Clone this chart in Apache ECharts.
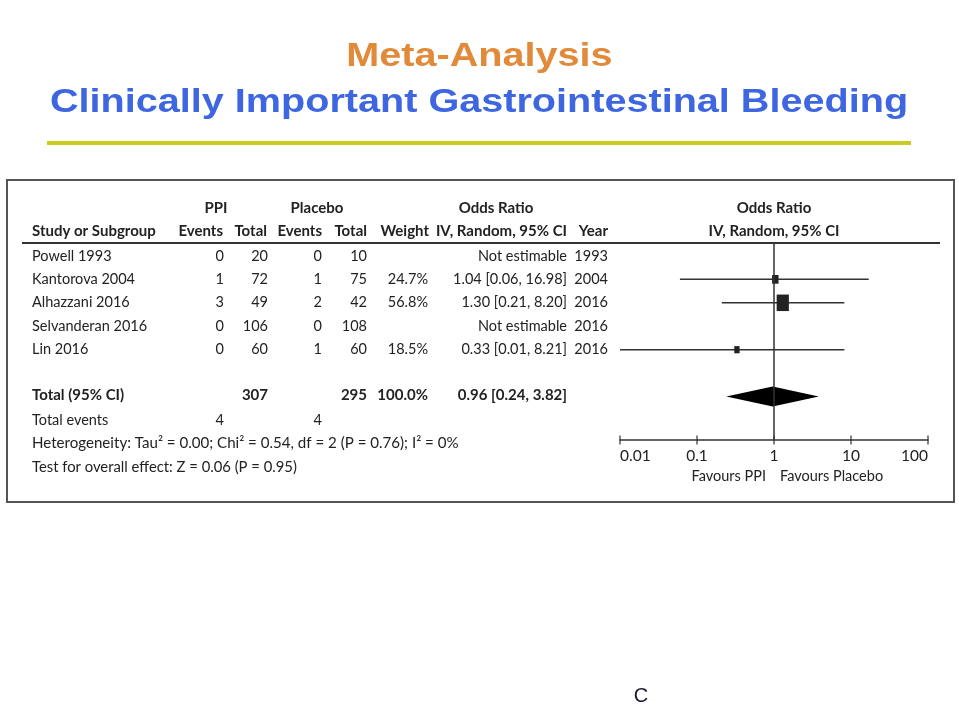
<!DOCTYPE html>
<html>
<head>
<meta charset="utf-8">
<title>Meta-Analysis</title>
<script src="https://cdn.jsdelivr.net/npm/echarts@6/dist/echarts.min.js"></script>
<style>
  html, body { margin: 0; padding: 0; background: #fff; }
  #main { width: 959px; height: 719px; }
</style>
</head>
<body>
<div id="main"></div>
<script>
// study rows
var studies = ['Powell 1993', 'Kantorova 2004', 'Alhazzani 2016', 'Selvanderan 2016', 'Lin 2016'];
var ppiEvents = [0, 1, 3, 0, 0];
var ppiTotal = [20, 72, 49, 106, 60];
var plaEvents = [0, 1, 2, 0, 1];
var plaTotal = [10, 75, 42, 108, 60];
var weights = [null, 24.7, 56.8, null, 18.5];
var oddsRatio = [null, 1.04, 1.30, null, 0.33];
var ciLow = [null, 0.06, 0.21, null, 0.01];
var ciHigh = [null, 16.98, 8.20, null, 8.21];
var years = [1993, 2004, 2016, 2016, 2016];

// pooled result
var totalOR = [0.96, 0.24, 3.82];   // estimate, low, high
var totalN = [307, 295];
var totalEvents = [4, 4];
var xTicks = [0.01, 0.1, 1, 10, 100];

var FONT = 'Lato, "Noto Sans", sans-serif';
var INK = '#222';
var AXIS_ROW = 7.85;   // row index where the x axis sits
var TOP_ROW = -0.55;   // row index of the header rule

var chart = echarts.init(document.getElementById('main'));

function fmtOR(i) {
    if (oddsRatio[i] == null) return 'Not estimable';
    return oddsRatio[i].toFixed(2) + ' [' + ciLow[i].toFixed(2) + ', ' + ciHigh[i].toFixed(2) + ']';
}

var ciData = [];
for (var i = 0; i < studies.length; i++) {
    if (oddsRatio[i] != null) ciData.push([oddsRatio[i], i, ciLow[i], ciHigh[i], weights[i]]);
}

chart.setOption({
    backgroundColor: '#fff',
    animation: false,
    grid: { left: 620, width: 308, top: 243, height: 197 },
    xAxis: {
        type: 'log', logBase: 10, min: 0.01, max: 100,
        axisLine: { show: true, onZero: false, lineStyle: { color: '#333', width: 1.5 } },
        axisTick: { show: false },
        splitLine: { show: false },
        axisLabel: {
            color: INK, fontFamily: FONT, fontSize: 15.5, margin: 8,
            alignMinLabel: 'left', alignMaxLabel: 'right',
            formatter: function (v) { return String(+v.toPrecision(3)); }
        }
    },
    yAxis: {
        type: 'value', inverse: true, min: TOP_ROW, max: AXIS_ROW, show: false
    },
    series: [
        {
            // line of no effect
            type: 'line', symbol: 'none', silent: true,
            lineStyle: { color: '#333', width: 1.5 },
            data: [[1, TOP_ROW], [1, AXIS_ROW]]
        },
        {
            // tick marks crossing the axis
            type: 'scatter', symbol: 'rect', symbolSize: [1.5, 9], silent: true,
            itemStyle: { color: '#333' },
            data: xTicks.map(function (t) { return [t, AXIS_ROW]; })
        },
        {
            // confidence intervals and weighted squares
            type: 'custom', silent: true,
            data: ciData,
            renderItem: function (params, api) {
                var c = api.coord([api.value(0), api.value(1)]);
                var lo = api.coord([api.value(2), api.value(1)]);
                var hi = api.coord([api.value(3), api.value(1)]);
                var w = 2 + api.value(4) * 0.18;
                var h = w * 1.35;
                return {
                    type: 'group',
                    children: [
                        { type: 'line', shape: { x1: lo[0], y1: c[1], x2: hi[0], y2: c[1] },
                          style: { stroke: '#333', lineWidth: 1.5 } },
                        { type: 'rect', shape: { x: c[0] - w / 2, y: c[1] - h / 2, width: w, height: h },
                          style: { fill: '#222' } }
                    ]
                };
            }
        },
        {
            // pooled diamond
            type: 'custom', silent: true,
            data: [[totalOR[0], 6, totalOR[1], totalOR[2]]],
            renderItem: function (params, api) {
                var c = api.coord([api.value(0), api.value(1)]);
                var lo = api.coord([api.value(2), api.value(1)]);
                var hi = api.coord([api.value(3), api.value(1)]);
                return {
                    type: 'polygon',
                    shape: { points: [[lo[0], c[1]], [c[0], c[1] - 10], [hi[0], c[1]], [c[0], c[1] + 10]] },
                    style: { fill: '#000' }
                };
            }
        }
    ]
});

// table text, rows placed through the y axis
function rowY(r) { return chart.convertToPixel({ yAxisIndex: 0 }, r); }
function txt(s, x, r, align, bold, size) {
    return {
        type: 'text', x: x, y: rowY(r), silent: true,
        style: {
            text: String(s), fill: INK, align: align || 'right', verticalAlign: 'middle',
            font: (bold ? 'bold ' : '') + (size || (bold ? 15 : 14.5)) + 'px ' + FONT
        }
    };
}

var g = [];
// slide heading
g.push({ type: 'text', x: 479.5, y: 57, scaleX: 1.2, silent: true,
    style: { text: 'Meta-Analysis', fill: '#E08A3A', align: 'center', verticalAlign: 'middle',
             font: 'bold 33px "Liberation Sans", Arial, sans-serif' } });
g.push({ type: 'text', x: 479, y: 103, scaleX: 1.2, silent: true,
    style: { text: 'Clinically Important Gastrointestinal Bleeding', fill: '#3D66E0', align: 'center',
             verticalAlign: 'middle', font: 'bold 33px "Liberation Sans", Arial, sans-serif' } });
g.push({ type: 'rect', shape: { x: 47, y: 141, width: 864, height: 4 }, style: { fill: '#CCCC1E' }, silent: true });
// frame and header rule
g.push({ type: 'rect', shape: { x: 7, y: 180, width: 947, height: 322 },
    style: { fill: null, stroke: '#555', lineWidth: 2 }, silent: true });
g.push({ type: 'line', shape: { x1: 22, y1: 243, x2: 940, y2: 243 },
    style: { stroke: '#333', lineWidth: 2 }, silent: true });

// header rows
g.push(txt('PPI', 216, -2.05, 'center', true));
g.push(txt('Placebo', 317, -2.05, 'center', true));
g.push(txt('Odds Ratio', 496, -2.05, 'center', true));
g.push(txt('Odds Ratio', 774, -2.05, 'center', true));
g.push(txt('Study or Subgroup', 32, -1.07, 'left', true));
g.push(txt('Events', 223, -1.07, 'right', true));
g.push(txt('Total', 267, -1.07, 'right', true));
g.push(txt('Events', 322, -1.07, 'right', true));
g.push(txt('Total', 367, -1.07, 'right', true));
g.push(txt('Weight', 429, -1.07, 'right', true));
g.push(txt('IV, Random, 95% CI', 567, -1.07, 'right', true));
g.push(txt('Year', 608, -1.07, 'right', true));
g.push(txt('IV, Random, 95% CI', 774, -1.07, 'center', true));

// study rows
for (var k = 0; k < studies.length; k++) {
    g.push(txt(studies[k], 32, k, 'left'));
    g.push(txt(ppiEvents[k], 224, k));
    g.push(txt(ppiTotal[k], 268, k));
    g.push(txt(plaEvents[k], 322, k));
    g.push(txt(plaTotal[k], 367, k));
    if (weights[k] != null) g.push(txt(weights[k].toFixed(1) + '%', 428, k));
    g.push(txt(fmtOR(k), 567, k));
    g.push(txt(years[k], 608, k));
}

// totals
g.push(txt('Total (95% CI)', 32, 5.93, 'left', true));
g.push(txt(totalN[0], 268, 5.93, 'right', true));
g.push(txt(totalN[1], 367, 5.93, 'right', true));
g.push(txt('100.0%', 428, 5.93, 'right', true));
g.push(txt(totalOR[0].toFixed(2) + ' [' + totalOR[1].toFixed(2) + ', ' + totalOR[2].toFixed(2) + ']', 567, 5.93, 'right', true));
g.push(txt('Total events', 32, 7, 'left'));
g.push(txt(totalEvents[0], 224, 7));
g.push(txt(totalEvents[1], 322, 7));
g.push(txt('Heterogeneity: Tau\u00B2 = 0.00; Chi\u00B2 = 0.54, df = 2 (P = 0.76); I\u00B2 = 0%', 32, 8, 'left', false, 15.1));
g.push(txt('Test for overall effect: Z = 0.06 (P = 0.95)', 32, 9, 'left', false, 14.8));

// favours labels either side of 1
var x1 = chart.convertToPixel({ xAxisIndex: 0 }, 1);
g.push({ type: 'text', x: x1 - 8, y: 476, silent: true,
    style: { text: 'Favours PPI', fill: INK, align: 'right', verticalAlign: 'middle', font: '14.5px ' + FONT } });
g.push({ type: 'text', x: x1 + 6, y: 476, silent: true,
    style: { text: 'Favours Placebo', fill: INK, align: 'left', verticalAlign: 'middle', font: '14.5px ' + FONT } });

// stray footer letter
g.push({ type: 'text', x: 641, y: 696, silent: true,
    style: { text: 'C', fill: '#1a1a2e', align: 'center', verticalAlign: 'middle',
             font: '20px "Liberation Sans", Arial, sans-serif' } });

chart.setOption({ graphic: g });
</script>
</body>
</html>
